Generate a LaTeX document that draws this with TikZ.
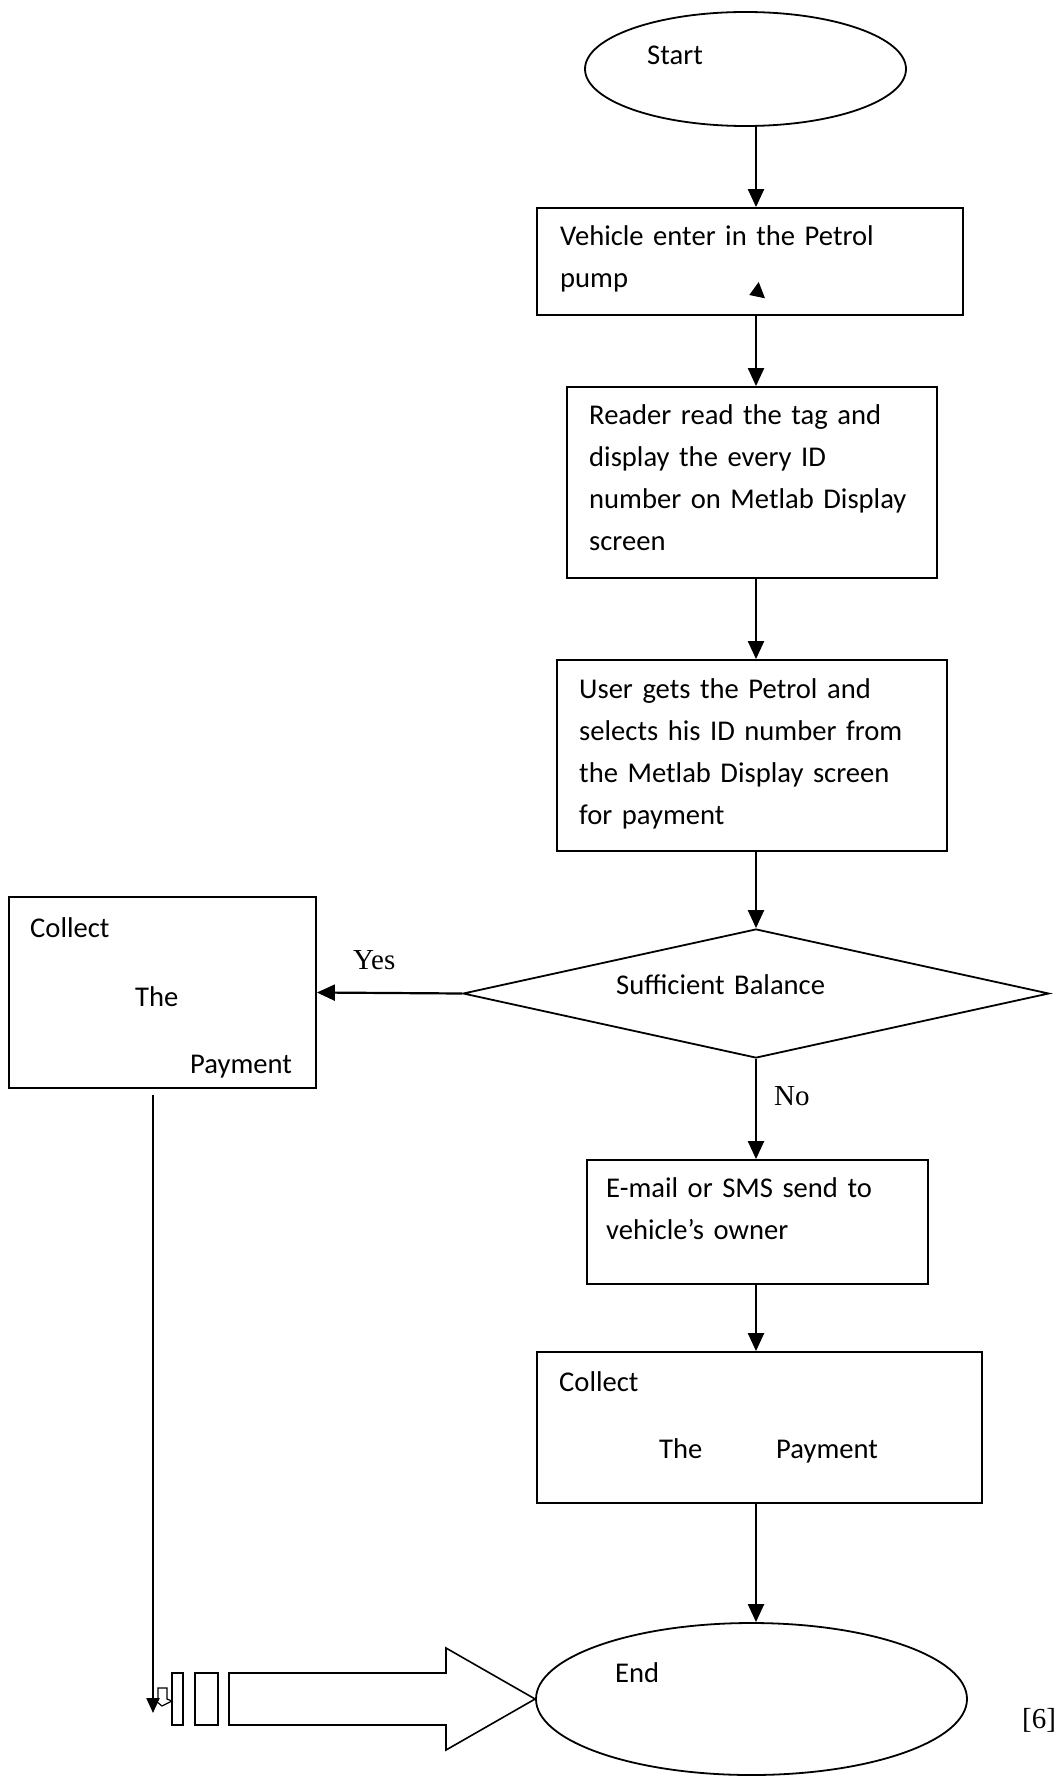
\documentclass[tikz,border=0pt]{standalone}
\usepackage{fontspec}
\setmainfont{Carlito}
\newfontfamily\tnr{Liberation Serif}
\usetikzlibrary{shapes.geometric,arrows.meta}
\begin{document}
\begin{tikzpicture}[x=1pt,y=-1pt,
  box/.style={draw, line width=1.8pt, inner sep=0pt, rectangle},
  oval/.style={draw, line width=1.8pt, ellipse, inner sep=0pt},
  txt/.style={inner sep=0pt, anchor=base west, align=left, text width=420pt, font=\fontsize{28.6}{42}\selectfont},
  lbl/.style={inner sep=0pt, anchor=base west, font=\tnr\fontsize{29}{34}\selectfont},
  arr/.style={line width=2.2pt, -{Triangle[length=18pt,width=16pt]}},
  shp/.style={draw, line width=1.6pt}
]
\fill[white] (0,0) rectangle (1059,1776);
\path[use as bounding box] (0,0) rectangle (1059,1776);
\coordinate (xcol) at (756,0);

% start
\node[oval, minimum width=321pt, minimum height=114pt] (start) at (745.5,69) {};
\node[txt] (starttxt) at (647,65) {Start};

% box 1
\node[box, minimum width=426pt, minimum height=107pt] (b1) at (750,261.5) {};
\node[txt] (b1t) at (560,246) {Vehicle enter in the Petrol\\pump};
\fill (758.7,282) -- (749.3,295) -- (765,298.3) -- cycle;

% box 2
\node[box, minimum width=370pt, minimum height=191pt] (b2) at (752,482.5) {};
\node[txt] (b2t) at (589,424) {Reader read the tag and\\display the every ID\\number on Metlab Display\\screen};

% box 3
\node[box, minimum width=390pt, minimum height=191pt] (b3) at (752,755.5) {};
\node[txt] (b3t) at (579,698) {User gets the Petrol and\\selects his ID number from\\the Metlab Display screen\\for payment};

% decision
\node[draw, diamond, line width=1.8pt, inner sep=0pt, minimum width=586pt, minimum height=129pt] (dia) at (756,993.5) {};
\node[txt] (diat) at (616,994) {Sufficient Balance};

% left collect box
\node[box, minimum width=307pt, minimum height=191pt] (cl) at (162.5,992.5) {};
\node[txt] (cl1) at (30,937) {Collect};
\node[txt] (cl2) at (135,1006) {The};
\node[txt] (cl3) at (190,1073) {Payment};

\node[lbl] (yes) at (353,969) {Yes};
\node[lbl] (no) at (774,1105) {No};

% box 4
\node[box, minimum width=341pt, minimum height=124pt] (b4) at (757.5,1222) {};
\node[txt] (b4t) at (606,1197) {E-mail or SMS send to\\vehicle’s owner};

% box 5
\node[box, minimum width=445pt, minimum height=151pt] (b5) at (759.5,1427.5) {};
\node[txt] (b51) at (559,1391) {Collect};
\node[txt] (b52) at (659,1458) {The};
\node[txt] (b53) at (776,1458) {Payment};

% end
\node[oval, minimum width=431pt, minimum height=152pt] (end) at (751.5,1699) {};
\node[txt] (endt) at (615,1682) {End};
\node[lbl] (ref) at (1022,1728) {[6]};

% connectors
\draw[arr] (start.south -| xcol) -- (b1.north -| xcol);
\draw[arr] (b1.south -| xcol) -- (b2.north -| xcol);
\draw[arr] (b2.south -| xcol) -- (b3.north -| xcol);
\draw[arr] (b3.south -| xcol) -- (dia.north);
\draw[arr] (dia.south) -- (b4.north -| xcol);
\draw[arr] (b4.south -| xcol) -- (b5.north -| xcol);
\draw[arr] (b5.south -| xcol) -- (end.north -| xcol);
\draw[arr] (dia.west) -- (cl.east);

\coordinate (lstart) at (153,1095);
\coordinate (ltip) at (153,1713);
\draw[line width=2.2pt, -{Triangle[length=15pt,width=13pt]}] (lstart) -- (ltip);

% bottom block arrow and bars
\draw[shp] (229,1673) -- (446,1673) -- (446,1648) -- (end.west) -- (446,1750) -- (446,1725) -- (229,1725) -- cycle;
\draw[shp] (172,1673) rectangle (183,1725);
\draw[shp] (195,1673) rectangle (218,1725);
\draw[line width=1.2pt] (158,1688) -- (167,1688) -- (167,1699) -- (172,1701) -- (162,1706) -- (156,1701) -- (158,1699) -- cycle;
\end{tikzpicture}
\end{document}
